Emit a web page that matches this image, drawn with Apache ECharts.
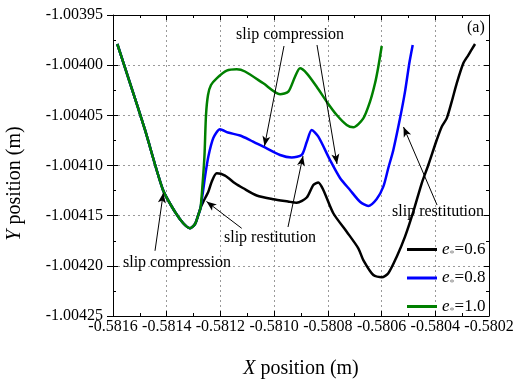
<!DOCTYPE html>
<html>
<head>
<meta charset="utf-8">
<script src="https://cdn.jsdelivr.net/npm/echarts@6/dist/echarts.min.js"></script>
<style>
html, body { margin: 0; padding: 0; background: #fff; }
#chart { width: 514px; height: 381px; }
</style>
</head>
<body>
<div id="chart"></div>
<script>
var FONT = '"Liberation Serif", "Times New Roman", serif';

// shared path of all three cases up to the impact point  [x, y]
var commonPath = [
    [-0.581584, -1.0039789], [-0.5815367, -1.0040178], [-0.5814808, -1.0040646],
    [-0.5814138, -1.0041244], [-0.5813691, -1.0041463], [-0.5813393, -1.0041573],
    [-0.5813133, -1.0041626], [-0.5812947, -1.0041583], [-0.5812835, -1.0041503],
    [-0.5812742, -1.0041423]
];
// e*=0.6
var tail06 = [
    [-0.5812638, -1.0041361], [-0.5812451, -1.0041261], [-0.5812325, -1.0041161],
    [-0.5812139, -1.0041078], [-0.5811829, -1.00411], [-0.5811457, -1.0041177],
    [-0.5811148, -1.0041227], [-0.5810649, -1.0041299], [-0.5810031, -1.0041337],
    [-0.5809484, -1.0041359], [-0.580916, -1.0041371], [-0.5808787, -1.0041319],
    [-0.5808541, -1.0041194], [-0.5808355, -1.0041169], [-0.5808169, -1.0041244],
    [-0.5807797, -1.0041476], [-0.5807298, -1.004166], [-0.5806866, -1.0041825],
    [-0.580668, -1.0041942], [-0.5806307, -1.0042091], [-0.5805994, -1.0042114],
    [-0.5805749, -1.0042074], [-0.5805436, -1.0041909], [-0.5805127, -1.0041709],
    [-0.5804818, -1.004146], [-0.5804505, -1.0041177], [-0.5804259, -1.0040995],
    [-0.5803947, -1.0040746], [-0.580376, -1.0040613], [-0.5803574, -1.004053],
    [-0.5803388, -1.0040364], [-0.5803202, -1.0040181], [-0.5802956, -1.0039981],
    [-0.5802769, -1.0039899], [-0.580252, -1.0039789]
];
// e*=0.8
var tail08 = [
    [-0.5812649, -1.004126], [-0.5812574, -1.0041112], [-0.5812451, -1.0040912],
    [-0.5812265, -1.0040726], [-0.5812016, -1.0040639], [-0.5811718, -1.0040671],
    [-0.5811271, -1.0040701], [-0.5810899, -1.0040746], [-0.5810403, -1.0040813],
    [-0.5809781, -1.0040895], [-0.5809346, -1.004092], [-0.5808973, -1.0040895],
    [-0.5808787, -1.0040766], [-0.5808601, -1.0040646], [-0.5808355, -1.0040713],
    [-0.580792, -1.0040945], [-0.5807547, -1.0041124], [-0.5807175, -1.0041244],
    [-0.5806803, -1.0041361], [-0.5806493, -1.0041403], [-0.5806181, -1.0041334],
    [-0.5805935, -1.0041211], [-0.5805749, -1.0041025], [-0.5805562, -1.0040845],
    [-0.5805313, -1.004053], [-0.5805127, -1.0040264], [-0.5804967, -1.0039981],
    [-0.580484, -1.0039799]
];
// e*=1.0
var tail10 = [
    [-0.5812667, -1.0041194], [-0.5812593, -1.0040895], [-0.5812537, -1.0040497],
    [-0.5812462, -1.0040297], [-0.5812351, -1.0040198], [-0.5812139, -1.0040131],
    [-0.5811766, -1.0040055], [-0.5811394, -1.0040041], [-0.5811085, -1.0040063],
    [-0.5810403, -1.0040181], [-0.5809781, -1.004029], [-0.5809472, -1.0040264],
    [-0.5809223, -1.0040115], [-0.5809037, -1.0040031], [-0.5808787, -1.0040081],
    [-0.5808415, -1.0040215], [-0.5808042, -1.0040364], [-0.580767, -1.0040497],
    [-0.5807298, -1.0040596], [-0.5807052, -1.0040619], [-0.580668, -1.004053],
    [-0.580643, -1.0040364], [-0.5806244, -1.0040181], [-0.5806121, -1.0040015],
    [-0.5805994, -1.0039809]
];

var seriesNames = ['e*=0.6', 'e*=0.8', 'e*=1.0'];
var seriesColors = ['#000000', '#0000ff', '#008000'];

// annotation texts and arrows, in data coordinates
var noteTexts = ['slip compression', 'slip restitution', 'slip compression', 'slip restitution'];
var noteTextAt = [
    [-0.5809409, -1.0039699], [-0.5810154, -1.0041722],
    [-0.5813617, -1.0041972], [-0.5803898, -1.0041463]
];
var arrowFrom = [
    [-0.5809633, -1.0039809], [-0.5808404, -1.0039799], [-0.5811208, -1.0041626],
    [-0.5809484, -1.0041613], [-0.5814436, -1.004185], [-0.5803935, -1.0041394]
];
var arrowTo = [
    [-0.5810359, -1.0040806], [-0.5807659, -1.0040985], [-0.5812518, -1.0041359],
    [-0.5808925, -1.0040905], [-0.5814127, -1.0041274], [-0.5805183, -1.0040616]
];

var tickStyle = { color: '#000', width: 1 };

// kind: 'main' (labels, grid, inward ticks), 'mirror' (inward ticks only), 'out' (outward ticks only)
function makeAxis(pos, kind) {
    var isX = pos === 'bottom' || pos === 'top';
    var main = kind === 'main';
    var ax = {
        type: 'value',
        position: pos,
        offset: 0,
        min: isX ? -0.5816 : -1.00425,
        max: isX ? -0.5802 : -1.00395,
        interval: isX ? 0.0002 : 0.00005,
        axisLine: { show: kind !== 'out', onZero: false, lineStyle: tickStyle },
        axisTick: { show: true, inside: kind !== 'out', length: kind === 'out' ? 6 : 5, lineStyle: tickStyle },
        minorTick: { show: kind !== 'out', splitNumber: 2, length: 3, lineStyle: tickStyle },
        splitLine: { show: main, lineStyle: { color: '#999', type: [2, 3], width: 1 } },
        axisLabel: {
            show: main,
            color: '#000',
            fontFamily: FONT,
            fontSize: 16,
            margin: isX ? 3 : 10,
            formatter: function (v) { return v.toFixed(isX ? 4 : 5); }
        }
    };
    if (main) {
        ax.name = isX ? '{i|X} position (m)' : '{i|Y} position (m)';
        ax.nameLocation = 'middle';
        ax.nameGap = isX ? 43 : 88;
        ax.nameTextStyle = {
            color: '#000', fontFamily: FONT, fontSize: 20,
            padding: isX ? 0 : [0, 36, 0, 0],
            rich: {
                i: { fontStyle: 'italic', fontFamily: FONT, fontSize: 20, color: '#000' }
            }
        };
    }
    return ax;
}

var tails = [tail06, tail08, tail10];
var series = seriesNames.map(function (name, i) {
    return {
        name: name,
        type: 'line',
        data: commonPath.concat(tails[i]),
        showSymbol: false,
        smooth: 0.25,
        color: seriesColors[i],
        lineStyle: { width: 2.5, color: seriesColors[i] }
    };
});

series.push({
    name: 'notes',
    type: 'line',
    data: [],
    markLine: {
        silent: true,
        animation: false,
        symbol: ['none', 'arrow'],
        symbolSize: [6, 10],
        lineStyle: { color: '#000', width: 1, type: 'solid' },
        label: { show: false },
        emphasis: { disabled: true },
        data: arrowFrom.map(function (p, i) {
            return [{ coord: p }, { coord: arrowTo[i] }];
        })
    },
    markPoint: {
        silent: true,
        animation: false,
        symbol: 'rect',
        symbolSize: 1,
        itemStyle: { color: 'rgba(0,0,0,0)' },
        label: {
            show: true,
            position: 'inside',
            color: '#000',
            fontFamily: FONT,
            fontSize: 16,
            formatter: function (p) { return p.name; }
        },
        data: noteTexts.map(function (t, i) {
            return { name: t, coord: noteTextAt[i] };
        })
    }
});

var option = {
    animation: false,
    backgroundColor: '#fff',
    grid: { left: 113, right: 25, top: 15, bottom: 65, outerBoundsMode: 'none' },
    xAxis: [makeAxis('bottom', 'main'), makeAxis('top', 'mirror')],
    yAxis: [makeAxis('left', 'main'), makeAxis('right', 'mirror'), makeAxis('left', 'out')],
    legend: {
        data: seriesNames,
        orient: 'vertical',
        left: 402,
        top: 236,
        icon: 'rect',
        itemWidth: 30,
        itemHeight: 3,
        itemGap: 10,
        formatter: function (n) {
            return '{e|e}{s|*}{t|=' + n.split('=')[1] + '}';
        },
        textStyle: {
            rich: {
                e: { fontFamily: FONT, fontStyle: 'italic', fontSize: 17, color: '#000' },
                s: { fontFamily: FONT, fontSize: 10, color: '#888', padding: [10, 0, 0, 0] },
                t: { fontFamily: FONT, fontSize: 17, color: '#000' }
            }
        }
    },
    graphic: [{
        type: 'text',
        left: 467,
        top: 20,
        style: { text: '(a)', font: '16px ' + FONT, fill: '#000' }
    }],
    series: series
};

var myChart = echarts.init(document.getElementById('chart'));
myChart.setOption(option);
</script>
</body>
</html>
